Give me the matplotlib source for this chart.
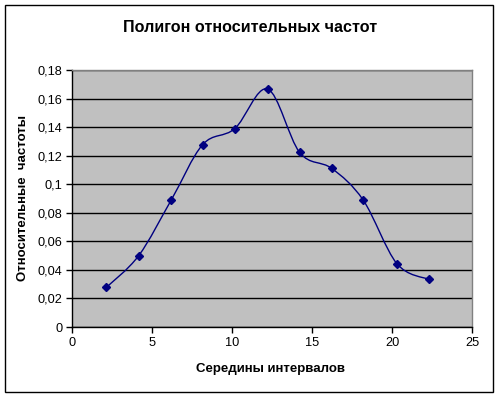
import matplotlib
matplotlib.use("Agg")
import matplotlib.pyplot as plt
from matplotlib.path import Path
from matplotlib.patches import PathPatch, Rectangle
from matplotlib.ticker import MultipleLocator, FuncFormatter

plt.rcParams['font.family'] = ['Liberation Sans', 'DejaVu Sans']

# Data
midpoints = [2.15, 4.17, 6.2, 8.17, 10.17, 12.23, 14.23, 16.23, 18.2, 20.3, 22.3]
rel_freq = [5/180, 9/180, 16/180, 23/180, 25/180, 30/180, 22/180, 20/180, 16/180, 8/180, 6/180]

title = "Полигон относительных частот"
xlabel = "Середины интервалов"
ylabel = "Относительные  частоты"

W, H = 501, 398
fig = plt.figure(figsize=(W/100, H/100), dpi=100)
fig.patch.set_facecolor('white')

# outer chart border
fig.patches.append(Rectangle((5/W, 1-392/H), 488/W, 387/H, transform=fig.transFigure,
                             fill=False, edgecolor='black', linewidth=1.0))

left, right, top, bottom = 72, 472, 70, 327
ax = fig.add_axes([left/W, 1-bottom/H, (right-left)/W, (bottom-top)/H])
ax.set_facecolor('#C0C0C0')
ax.set_xlim(0, 25)
ax.set_ylim(0, 0.18)
ax.xaxis.set_major_locator(MultipleLocator(5))
ax.yaxis.set_major_locator(MultipleLocator(0.02))
fmt = FuncFormatter(lambda v, p: f"{v:g}".replace('.', ','))
ax.xaxis.set_major_formatter(fmt)
ax.yaxis.set_major_formatter(fmt)
ax.grid(axis='y', color='black', linewidth=1.0)
ax.set_axisbelow(True)
for s in ['top', 'right']:
    ax.spines[s].set_color('#808080')
    ax.spines[s].set_linewidth(1.0)
for s in ['left', 'bottom']:
    ax.spines[s].set_color('black')
    ax.spines[s].set_linewidth(1.0)
ax.tick_params(direction='out', length=4, width=1, labelsize=9.2, colors='black', pad=3)

# smooth curve (Catmull-Rom -> Bezier, as in spreadsheet smoothed lines)
pts = list(zip(midpoints, rel_freq))
verts = [pts[0]]
codes = [Path.MOVETO]
n = len(pts)
for i in range(n-1):
    p0 = pts[i-1] if i > 0 else pts[i]
    p1 = pts[i]
    p2 = pts[i+1]
    p3 = pts[i+2] if i+2 < n else pts[i+1]
    c1 = (p1[0] + (p2[0]-p0[0])/6, p1[1] + (p2[1]-p0[1])/6)
    c2 = (p2[0] - (p3[0]-p1[0])/6, p2[1] - (p3[1]-p1[1])/6)
    verts += [c1, c2, p2]
    codes += [Path.CURVE4]*3
ax.add_patch(PathPatch(Path(verts, codes), facecolor='none', edgecolor='#000080', linewidth=1.0))
ax.plot(midpoints, rel_freq, linestyle='none', marker='D', markersize=4.5,
        color='#000080', zorder=3)

fig.text(250/W, 1-28/H, title, ha='center', va='center', fontsize=11.6, fontweight='bold')
fig.text(271/W, 1-369/H, xlabel, ha='center', va='center', fontsize=9.5, fontweight='bold')
fig.text(23/W, 1-198/H, ylabel, ha='center', va='center', fontsize=9.5, fontweight='bold',
         rotation=90)

fig.savefig('out.png', dpi=100)
